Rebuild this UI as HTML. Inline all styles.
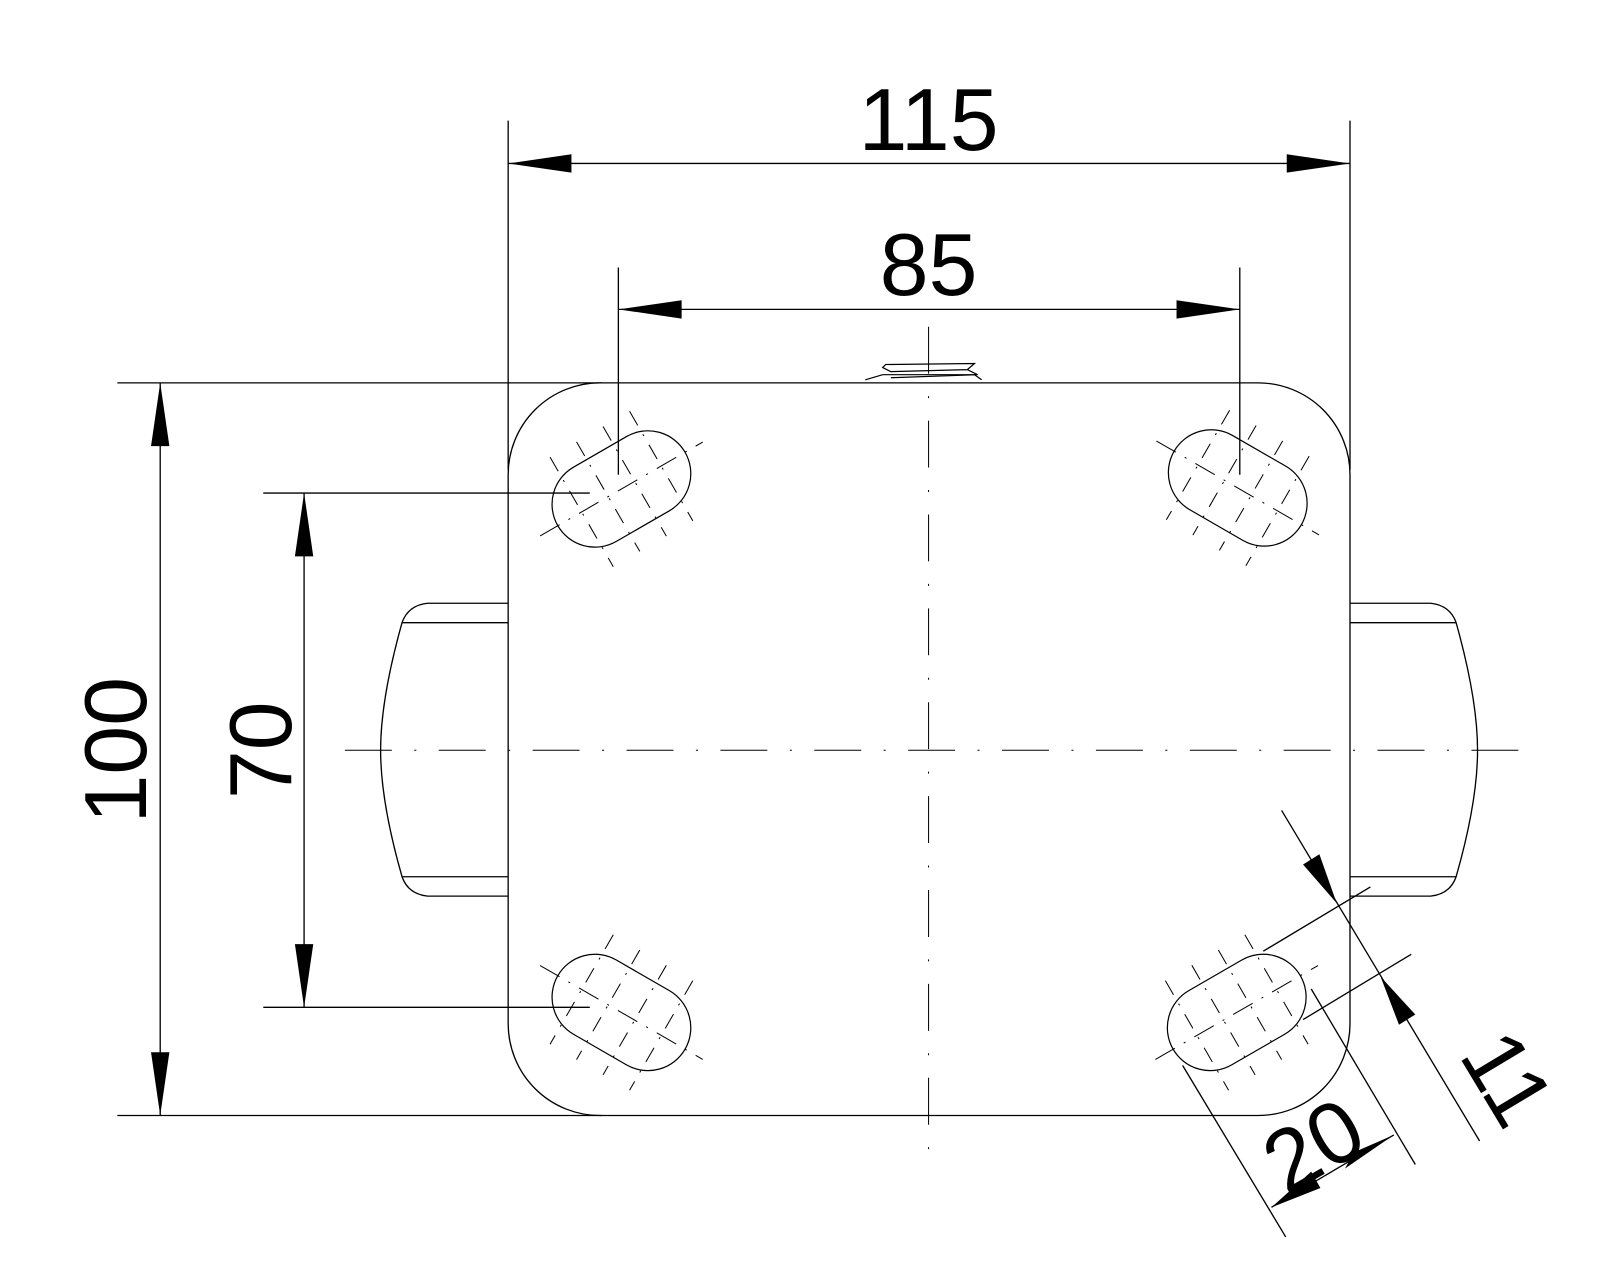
<!DOCTYPE html>
<html><head><meta charset="utf-8"><style>html,body{margin:0;padding:0;background:#fff;}svg{display:block}</style></head>
<body>
<svg width="1600" height="1280" viewBox="0 0 1568 1254" xmlns="http://www.w3.org/2000/svg">
<defs>
<g id="slot" fill="none" stroke="#000">
  <rect x="-72" y="-42" width="144" height="84" rx="42" ry="42" stroke-width="1.2"/>
  <line x1="-92" y1="0" x2="92" y2="0" stroke-width="1" stroke-dasharray="22 10 2 10"/>
  <g stroke-width="1" stroke-dasharray="16 10 2 10">
    <line x1="-45" y1="-62" x2="-45" y2="62"/>
    <line x1="-15" y1="-62" x2="-15" y2="62"/>
    <line x1="15" y1="-62" x2="15" y2="62"/>
    <line x1="45" y1="-62" x2="45" y2="62"/>
  </g>
</g>
</defs>
<rect width="1568" height="1254" fill="#fff"/>
<g fill="none" stroke="#000" stroke-width="1.3">
  <rect x="498" y="375" width="825" height="718" rx="90" ry="90"/>
  <path d="M498,591 L419,591 Q400,593 394,610 C380,660 373,700 373,735 C373,770 380,810 394,859 Q400,876 419,878 L498,878"/>
  <line x1="394" y1="610" x2="498" y2="610"/>
  <line x1="394" y1="859" x2="498" y2="859"/>
  <path d="M1323,591 L1402,591 Q1421,593 1427,610 C1441,660 1448,700 1448,735 C1448,770 1441,810 1427,859 Q1421,876 1402,878 L1323,878"/>
  <line x1="1323" y1="610" x2="1427" y2="610"/>
  <line x1="1323" y1="859" x2="1427" y2="859"/>
  <path d="M848,372 L865,367 L955,367 L962,372" stroke-width="1.2"/>
  <path d="M868,357 L955,356 L948,362 L873,364 L865,360 Z M873,364 L948,362 L958,367 L873,370" stroke-width="1.2"/>
  <line x1="910" y1="320" x2="910" y2="1130" stroke-width="1" stroke-dasharray="46 22 2 22"/>
  <line x1="338" y1="735" x2="1488" y2="735" stroke-width="1" stroke-dasharray="46 22 2 22"/>
</g>
<use href="#slot" transform="translate(609,479) rotate(-30)"/>
<use href="#slot" transform="translate(1213,478) rotate(30)"/>
<use href="#slot" transform="translate(609,992) rotate(30)"/>
<use href="#slot" transform="translate(1212,992) rotate(-30)"/>
<g stroke="#000" stroke-width="1.3" fill="none">
  <line x1="498" y1="118" x2="498" y2="460"/>
  <line x1="1323" y1="118" x2="1323" y2="460"/>
  <line x1="498" y1="160" x2="1323" y2="160"/>
  <line x1="606" y1="262" x2="606" y2="465"/>
  <line x1="1215" y1="262" x2="1215" y2="465"/>
  <line x1="606" y1="303" x2="1215" y2="303"/>
  <line x1="115" y1="375" x2="590" y2="375"/>
  <line x1="115" y1="1093" x2="590" y2="1093"/>
  <line x1="157" y1="375" x2="157" y2="1093"/>
  <line x1="258" y1="483" x2="578" y2="483"/>
  <line x1="258" y1="987" x2="578" y2="987"/>
  <line x1="298" y1="483" x2="298" y2="987"/>
  <line x1="1238" y1="932" x2="1343" y2="869"/>
  <line x1="1277" y1="999" x2="1383" y2="935"/>
  <line x1="1256" y1="794" x2="1450" y2="1118"/>
  <line x1="1159" y1="1044" x2="1260" y2="1212"/>
  <line x1="1285" y1="969" x2="1387" y2="1141"/>
  <line x1="1246" y1="1183" x2="1366" y2="1112"/>
</g>
<g fill="#000" stroke="none">
  <polygon points="498,160 560,151 560,169"/>
  <polygon points="1323,160 1261,151 1261,169"/>
  <polygon points="606,303 668,294 668,312"/>
  <polygon points="1215,303 1153,294 1153,312"/>
  <polygon points="157,375 148,437 166,437"/>
  <polygon points="157,1093 148,1031 166,1031"/>
  <polygon points="298,483 289,545 307,545"/>
  <polygon points="298,987 289,925 307,925"/>
  <polygon points="1310,885 1277,847 1293,837"/>
  <polygon points="1353,957 1371,1004 1387,994"/>
  <polygon points="1246,1183 1285,1148 1294,1164"/>
  <polygon points="1366,1112 1327,1129 1318,1145"/>
</g>
<g font-family="'Liberation Sans', sans-serif" font-size="86" fill="#000" text-anchor="middle">
  <text x="910" y="147">115</text>
  <text x="910" y="289">85</text>
  <text transform="translate(143,735) rotate(-90)">100</text>
  <text transform="translate(285,735) rotate(-90)">70</text>
  <text transform="translate(1302,1148) rotate(-30)">20</text>
  <text transform="translate(1452,1072) rotate(59)">11</text>
</g>
</svg>
</body></html>
